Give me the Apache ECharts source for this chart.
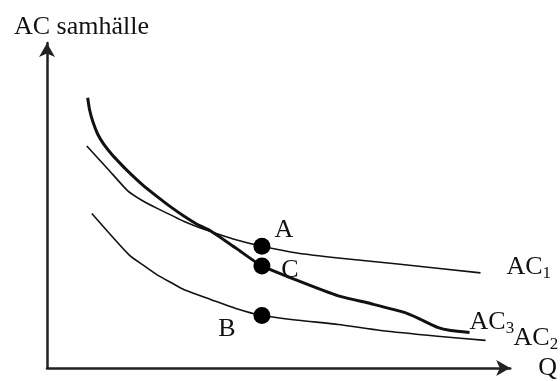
<!DOCTYPE html>
<html><head><meta charset="utf-8">
<script src="https://cdn.jsdelivr.net/npm/echarts@6/dist/echarts.min.js"></script>
<style>html,body{margin:0;padding:0;background:#fff}#c{width:560px;height:381px}</style>
</head><body><div id="c"></div>
<script>
// AC curves (quantity, average cost)
const ac1X = [0.87, 1.33, 1.76, 2.09, 2.41, 3.00, 3.50, 4.09, 4.70, 5.50, 6.37, 7.67, 9.48];
const ac1Y = [6.98, 6.26, 5.58, 5.26, 5.02, 4.61, 4.33, 4.05, 3.83, 3.61, 3.46, 3.27, 2.99];
const ac2X = [0.98, 1.80, 2.13, 2.41, 2.72, 3.00, 3.59, 4.13, 4.70, 5.50, 6.37, 7.30, 8.54, 9.59];
const ac2Y = [4.86, 3.55, 3.21, 2.93, 2.68, 2.46, 2.15, 1.87, 1.65, 1.50, 1.37, 1.18, 1.00, 0.87];
const ac3X = [0.89, 0.93, 1.00, 1.11, 1.24, 1.41, 1.59, 1.76, 2.09, 2.41, 2.72, 3.00, 3.28, 3.59,
              4.13, 4.70, 5.50, 6.37, 7.09, 7.83, 8.17, 8.54, 8.83, 9.24];
const ac3Y = [8.50, 8.13, 7.76, 7.35, 7.04, 6.73, 6.45, 6.20, 5.76, 5.39, 5.05, 4.77, 4.52, 4.30,
              3.77, 3.21, 2.74, 2.27, 2.02, 1.74, 1.53, 1.28, 1.18, 1.12];
const pointNames = ['A', 'C', 'B'];
const pointX = [4.70, 4.70, 4.70];
const pointY = [3.83, 3.21, 1.65];
const curveNames = ['AC1', 'AC2', 'AC3'];
const yTitle = 'AC samhälle';
const xTitle = 'Q';

const zip = (xs, ys) => xs.map((x, i) => [x, ys[i]]);
const FONT = '"Liberation Serif", "Times New Roman", serif';
const FS = 26;
const rich = {
  b: { fontFamily: FONT, fontSize: FS, color: '#111' },
  s: { fontFamily: FONT, fontSize: 17, color: '#111', padding: [13, 0, 0, 0] }
};
function curve(name, xs, ys, width, off) {
  return {
    type: 'line', name: name, data: zip(xs, ys), smooth: 0.2, symbol: 'none',
    lineStyle: { color: '#111', width: width, join: 'round' },
    endLabel: {
      show: true, offset: off, rich: rich,
      formatter: () => '{b|' + name.slice(0, 2) + '}{s|' + name.slice(2) + '}'
    },
    z: 2
  };
}
const offs = [[22, -16], [28, 4], [-35, 14]];
const chart = echarts.init(document.getElementById('c'));
chart.setOption({
  animation: false,
  title: { text: yTitle, left: 9, top: 9, textStyle: { fontFamily: FONT, fontSize: FS, fontWeight: 'normal', color: '#111' } },
  grid: { left: 47, right: 47, top: 43, bottom: 10 },
  xAxis: {
    type: 'value', min: 0, max: 10.13,
    name: xTitle, nameLocation: 'end', nameGap: 28,
    nameTextStyle: { fontFamily: FONT, fontSize: FS, color: '#111', verticalAlign: 'middle' },
    axisLine: { show: true, lineStyle: { color: '#222', width: 2.5 }, symbol: ['none', 'arrow'], symbolSize: [12, 14] },
    axisTick: { show: false }, axisLabel: { show: false }, splitLine: { show: false }
  },
  yAxis: {
    type: 'value', min: 0, max: 10.22,
    axisLine: { show: true, lineStyle: { color: '#222', width: 2.5 }, symbol: ['none', 'arrow'], symbolSize: [12, 14] },
    axisTick: { show: false }, axisLabel: { show: false }, splitLine: { show: false }
  },
  series: [
    curve(curveNames[0], ac1X, ac1Y, 1.6, [18, -6]),
    curve(curveNames[1], ac2X, ac2Y, 1.6, [20, -2]),
    curve(curveNames[2], ac3X, ac3Y, 3, [-8, -10]),
    {
      type: 'scatter', symbolSize: 17, itemStyle: { color: '#000', opacity: 1 }, z: 5,
      data: pointNames.map((n, i) => ({ name: n, value: [pointX[i], pointY[i]], label: { offset: offs[i] } })),
      label: {
        show: true, position: 'inside', formatter: p => p.name,
        fontFamily: FONT, fontSize: FS, color: '#111'
      }
    }
  ]
});
</script></body></html>
